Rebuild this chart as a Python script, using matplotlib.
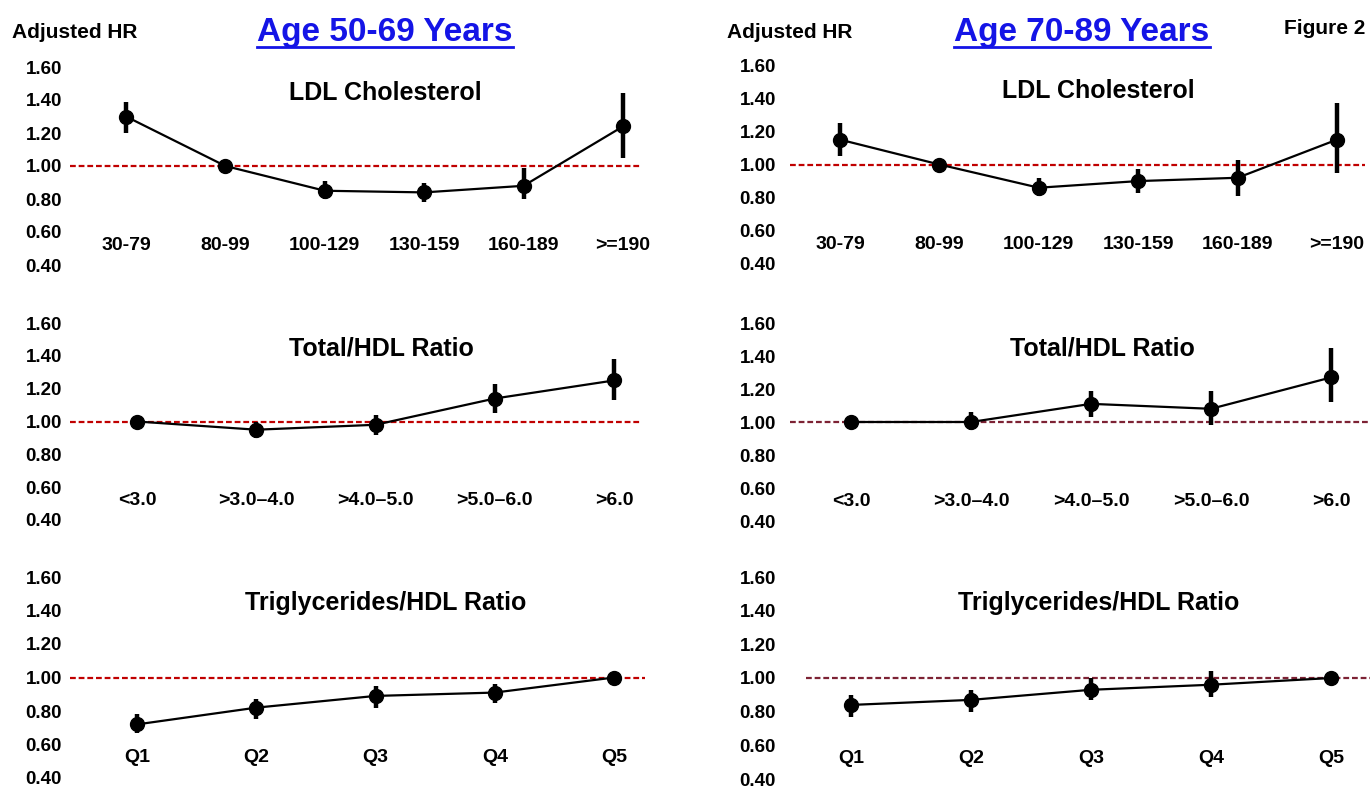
import numpy as np
import matplotlib
matplotlib.use('Agg')
import matplotlib.pyplot as plt
from matplotlib.transforms import blended_transform_factory
from matplotlib.lines import Line2D

plt.rcParams['font.family'] = ['Liberation Sans', 'DejaVu Sans']
plt.rcParams['font.weight'] = 'bold'

# categories
ldl_cats = ['30-79', '80-99', '100-129', '130-159', '160-189', '>=190']
ratio_cats = ['<3.0', '>3.0–4.0', '>4.0–5.0', '>5.0–6.0', '>6.0']
trig_cats = ['Q1', 'Q2', 'Q3', 'Q4', 'Q5']
yticks = [0.40, 0.60, 0.80, 1.00, 1.20, 1.40, 1.60]

# Age 50-69 (HR, lower, upper)
ldl_hr_50 = [1.30, 1.00, 0.85, 0.84, 0.88, 1.24]
ldl_lo_50 = [1.20, 1.00, 0.80, 0.78, 0.80, 1.05]
ldl_hi_50 = [1.39, 1.00, 0.91, 0.90, 0.99, 1.44]
tot_hr_50 = [1.00, 0.95, 0.98, 1.14, 1.25]
tot_lo_50 = [1.00, 0.90, 0.92, 1.05, 1.13]
tot_hi_50 = [1.00, 1.00, 1.04, 1.23, 1.38]
trig_hr_50 = [0.72, 0.82, 0.89, 0.91, 1.00]
trig_lo_50 = [0.67, 0.75, 0.82, 0.85, 1.00]
trig_hi_50 = [0.78, 0.87, 0.95, 0.96, 1.00]

# Age 70-89
ldl_hr_70 = [1.15, 1.00, 0.86, 0.90, 0.92, 1.15]
ldl_lo_70 = [1.05, 1.00, 0.81, 0.83, 0.81, 0.95]
ldl_hi_70 = [1.25, 1.00, 0.92, 0.97, 1.03, 1.37]
tot_hr_70 = [1.00, 1.00, 1.11, 1.08, 1.27]
tot_lo_70 = [1.00, 0.95, 1.03, 0.98, 1.12]
tot_hi_70 = [1.00, 1.06, 1.19, 1.19, 1.45]
trig_hr_70 = [0.84, 0.87, 0.93, 0.96, 1.00]
trig_lo_70 = [0.77, 0.80, 0.87, 0.89, 1.00]
trig_hi_70 = [0.90, 0.93, 1.00, 1.04, 1.00]

W, H = 1370, 787
fig = plt.figure(figsize=(W / 100, H / 100), dpi=100)

red = '#C00000'
maroon = '#7D2234'

# panel layout in pixels: left, right, top, bottom, label right edge, first pt x, last pt x, title x
panels = [
    ('LDL Cholesterol', ldl_cats, ldl_hr_50, ldl_lo_50, ldl_hi_50,
     (70, 640, 67, 265, 62, 126, 623, 385), red),
    ('Total/HDL Ratio', ratio_cats, tot_hr_50, tot_lo_50, tot_hi_50,
     (70, 642, 323, 520, 62, 137, 614, 381), red),
    ('Triglycerides/HDL Ratio', trig_cats, trig_hr_50, trig_lo_50, trig_hi_50,
     (70, 645, 577, 778, 62, 137, 614, 386), red),
    ('LDL Cholesterol', ldl_cats, ldl_hr_70, ldl_lo_70, ldl_hi_70,
     (790, 1365, 65, 264, 776, 840, 1337, 1098), red),
    ('Total/HDL Ratio', ratio_cats, tot_hr_70, tot_lo_70, tot_hi_70,
     (790, 1370, 323, 521, 776, 851, 1331, 1102), maroon),
    ('Triglycerides/HDL Ratio', trig_cats, trig_hr_70, trig_lo_70, trig_hi_70,
     (806, 1370, 577, 779, 776, 851, 1331, 1099), maroon),
]

for title, cats, hr, lo, hi, box, refc in panels:
    left, right, top, bottom, lab_r, x0, x1, tx = box
    ax = fig.add_axes([left / W, 1 - bottom / H, (right - left) / W, (bottom - top) / H])
    n = len(cats)
    x = np.arange(n)
    hr = np.array(hr)
    yerr = [hr - np.array(lo), np.array(hi) - hr]
    scale = (x1 - x0) / (n - 1)
    ax.set_xlim((left - x0) / scale, (n - 1) + (right - x1) / scale)
    ax.set_ylim(0.40, 1.60)
    ax.axhline(1.0, color=refc, lw=1.6, ls=(0, (2.6, 1.3)), zorder=1)
    ax.errorbar(x, hr, yerr=yerr, fmt='o-', color='black', ms=10, lw=1.6,
                elinewidth=3.2, capsize=0, zorder=3)
    for xi, c in zip(x, cats):
        ax.text(xi, 0.52, c, ha='center', va='center', fontsize=14, fontweight='bold')
    tr = blended_transform_factory(fig.transFigure, ax.transData)
    ax.text(tx / W, 1.445, title, transform=tr, ha='center', va='center',
            fontsize=18, fontweight='bold')
    ax.set_yticks(yticks)
    ax.set_yticklabels(['%.2f' % v for v in yticks], fontsize=13.5, fontweight='bold')
    ax.tick_params(axis='y', length=0, pad=(left - lab_r) * 0.72)
    ax.set_xticks([])
    for s in ax.spines.values():
        s.set_visible(False)
    ax.patch.set_alpha(0)

fig.text(12 / W, 1 - 32 / H, 'Adjusted HR', ha='left', va='center', fontsize=15, fontweight='bold')
fig.text(727 / W, 1 - 32 / H, 'Adjusted HR', ha='left', va='center', fontsize=15, fontweight='bold')
fig.text(1365 / W, 1 - 28 / H, 'Figure 2', ha='right', va='center', fontsize=15, fontweight='bold')

blue = '#1414E6'
t1 = fig.text(385 / W, 1 - 32 / H, 'Age 50-69 Years', ha='center', va='center',
              fontsize=24, fontweight='bold', color=blue)
t2 = fig.text(1082 / W, 1 - 32 / H, 'Age 70-89 Years', ha='center', va='center',
              fontsize=24, fontweight='bold', color=blue)

fig.canvas.draw()
r = fig.canvas.get_renderer()
for t in (t1, t2):
    bb = t.get_window_extent(renderer=r)
    fig.add_artist(Line2D([bb.x0 / W, bb.x1 / W], [1 - 47 / H, 1 - 47 / H],
                          transform=fig.transFigure, color=blue, lw=2))

fig.savefig('out.png', dpi=100)
